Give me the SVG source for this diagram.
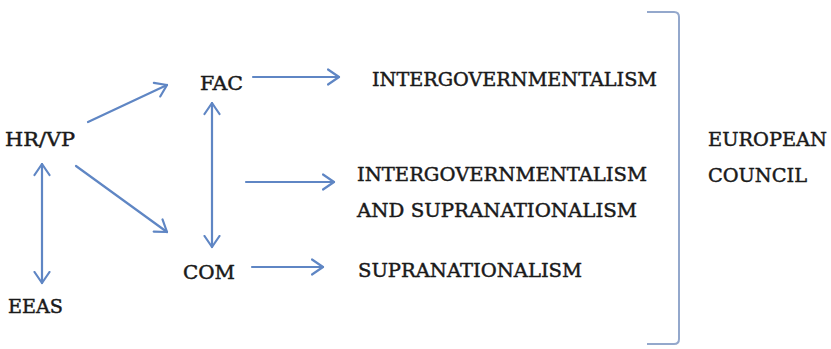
<svg xmlns="http://www.w3.org/2000/svg" width="831" height="349" viewBox="0 0 831 349">
  <style>
    .lbl { font-family: 'DejaVu Serif', 'Liberation Serif', serif; font-size: 19px; fill: #1a1a1a; stroke: #1a1a1a; stroke-width: 0.45px; }
    .arr { fill: none; stroke: #5f86c4; stroke-width: 2.2; stroke-linecap: round; marker-end: url(#head); }
    .dbl { marker-start: url(#head); }
    .brk { fill: none; stroke: #94a8cc; stroke-width: 2; }
  </style>
  <defs>
    <marker id="head" viewBox="0 0 14 18" refX="12.5" refY="9" markerWidth="14" markerHeight="18" markerUnits="userSpaceOnUse" orient="auto-start-reverse">
      <path d="M1.5,1.5 L12.5,9 L1.5,16.5" fill="none" stroke="#5f86c4" stroke-width="2.2" stroke-linecap="round" stroke-linejoin="round"/>
    </marker>
  </defs>

  <rect width="831" height="349" fill="#ffffff"/>

  <!-- connectors -->
  <g id="connectors">
    <line class="arr" x1="88" y1="122" x2="167" y2="85"/>
    <line class="arr" x1="76" y1="166" x2="167" y2="232"/>
    <line class="arr dbl" x1="42" y1="164" x2="42" y2="283"/>
    <line class="arr dbl" x1="212" y1="103" x2="212" y2="247"/>
    <line class="arr" x1="253" y1="77" x2="339" y2="77"/>
    <line class="arr" x1="246" y1="182" x2="334" y2="182"/>
    <line class="arr" x1="252" y1="267" x2="323" y2="267"/>
    <!-- bracket around the three outcomes -->
    <path class="brk" d="M647,12 L674,12 Q679,12 679,17 L679,339 Q679,344 674,344 L647,344"/>
  </g>

  <!-- nodes -->
  <g id="hrvp"><text class="lbl" x="5" y="146" textLength="70" lengthAdjust="spacingAndGlyphs">HR/VP</text></g>
  <g id="eeas"><text class="lbl" x="8" y="313" textLength="55" lengthAdjust="spacingAndGlyphs">EEAS</text></g>
  <g id="fac"><text class="lbl" x="200" y="90" textLength="43" lengthAdjust="spacingAndGlyphs">FAC</text></g>
  <g id="com"><text class="lbl" x="183" y="279" textLength="52" lengthAdjust="spacingAndGlyphs">COM</text></g>
  <g id="intergov"><text class="lbl" x="372" y="86" textLength="285" lengthAdjust="spacingAndGlyphs">INTERGOVERNMENTALISM</text></g>
  <g id="mixed">
    <text class="lbl" x="357" y="181" textLength="290" lengthAdjust="spacingAndGlyphs">INTERGOVERNMENTALISM</text>
    <text class="lbl" x="357" y="217" textLength="280" lengthAdjust="spacingAndGlyphs">AND SUPRANATIONALISM</text>
  </g>
  <g id="supra"><text class="lbl" x="358" y="277" textLength="224" lengthAdjust="spacingAndGlyphs">SUPRANATIONALISM</text></g>
  <g id="council">
    <text class="lbl" x="708" y="146" textLength="119" lengthAdjust="spacingAndGlyphs">EUROPEAN</text>
    <text class="lbl" x="708" y="182" textLength="99" lengthAdjust="spacingAndGlyphs">COUNCIL</text>
  </g>
</svg>
